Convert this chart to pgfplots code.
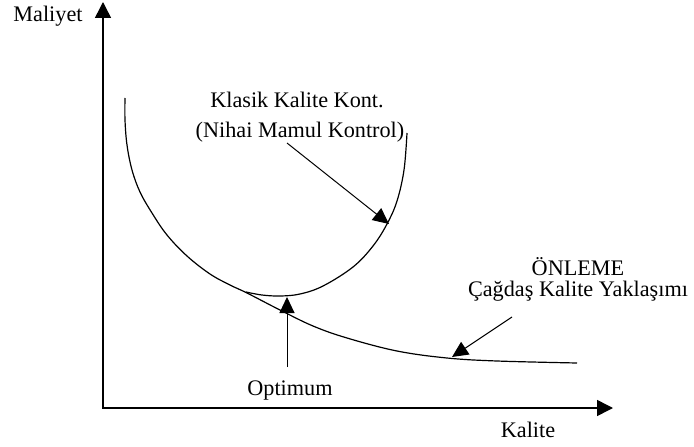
\documentclass[border=0pt]{standalone}
\usepackage{fontspec}
\setmainfont{Liberation Serif}
\usepackage{pgfplots}
\pgfplotsset{compat=1.18}
\usetikzlibrary{arrows.meta}
\begin{document}
\fontsize{22.3}{26}\selectfont
\begin{tikzpicture}
\begin{axis}[hide axis, scale only axis, width=694bp, height=447bp,
  xmin=0, xmax=694, ymin=0, ymax=447, y dir=reverse, clip=false]
% axes
\addplot[line width=1.5pt, -{Triangle[length=16bp,width=16bp]}] coordinates {(103,408) (103,2)};
\addplot[line width=1.5pt, -{Triangle[length=16bp,width=16bp]}] coordinates {(102.25,408) (613,408)};
% decreasing curve (prevention)
\addplot[line width=1.2pt, smooth, tension=0.6] coordinates {
(125,98) (125,120) (127,145) (132,170) (140,192) (152,213) (167,235) (187,256)
(210,274) (230,285) (247,293) (280,310) (313,326) (347,338) (397,351) (447,358) (497,361) (577,363)};
% classic U curve
\addplot[line width=1.2pt, smooth, tension=0.6] coordinates {
(246,292) (262,295) (280,296) (300,294) (323,286) (353,267) (373,246)
(387,224) (397,201) (404,170) (407,133)};
% annotation arrows
\addplot[line width=1pt, -{Triangle[length=16bp,width=15bp]}] coordinates {(287,143) (389,224)};
\addplot[line width=1pt, -{Triangle[length=16bp,width=15bp]}] coordinates {(512,317) (452,357)};
\addplot[line width=1pt, -{Triangle[length=16bp,width=15bp]}] coordinates {(287,367) (287,297)};
% labels
\node[anchor=base] at (axis cs:48,22) {Maliyet};
\node[anchor=base] at (axis cs:528,437) {Kalite};
\node[anchor=base] at (axis cs:297,107) {Klasik Kalite Kont.};
\node[anchor=base] at (axis cs:300,137) {(Nihai Mamul Kontrol)};
\node[anchor=base] at (axis cs:290,395) {Optimum};
\node[anchor=base] at (axis cs:578,275) {ÖNLEME};
\node[anchor=base] at (axis cs:578,296) {Çağdaş Kalite Yaklaşımı};
\end{axis}
\pgfresetboundingbox
\path (current axis.south west) rectangle (current axis.north east);
\end{tikzpicture}
\end{document}
